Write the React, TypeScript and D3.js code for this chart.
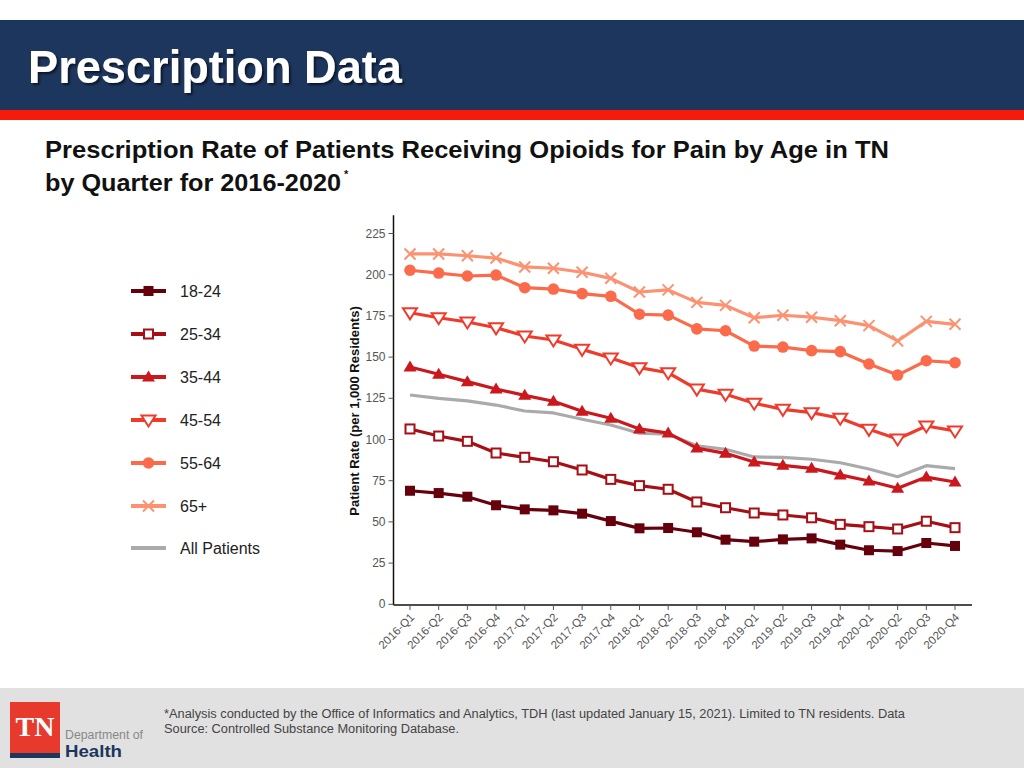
import React from "react";
import * as d3 from "d3";

const quarters = [
  "2016-Q1","2016-Q2","2016-Q3","2016-Q4",
  "2017-Q1","2017-Q2","2017-Q3","2017-Q4",
  "2018-Q1","2018-Q2","2018-Q3","2018-Q4",
  "2019-Q1","2019-Q2","2019-Q3","2019-Q4",
  "2020-Q1","2020-Q2","2020-Q3","2020-Q4",
];

const age18to24 = [68.9,67.5,65.3,60.1,57.6,57.0,55.0,50.5,46.1,46.3,43.7,39.2,38.0,39.4,40.0,36.2,32.8,32.3,37.2,35.4];
const age25to34 = [106.4,102.1,98.9,91.8,89.2,86.5,81.5,75.8,72.0,69.8,62.1,58.6,55.4,54.2,52.5,48.5,47.1,45.7,50.4,46.5];
const age35to44 = [144.0,139.6,135.1,130.6,126.8,123.2,117.1,112.9,106.4,103.9,94.8,91.6,86.3,84.3,82.5,78.5,74.8,70.4,77.2,74.2];
const age45to54 = [176.9,173.9,171.3,167.8,162.8,160.4,154.7,149.5,143.6,140.5,130.6,127.4,122.0,118.3,116.3,112.9,106.2,100.3,108.2,105.2];
const age55to64 = [202.7,201.0,199.2,199.8,192.1,191.3,188.5,186.9,176.0,175.5,167.1,166.0,156.7,156.1,153.9,153.3,145.8,139.1,147.8,146.6];
const age65plus = [212.6,212.6,211.5,210.1,204.7,203.9,201.5,197.8,189.5,190.8,183.2,181.4,173.9,175.4,174.2,172.1,169.1,159.8,171.7,169.9];
const allPatients = [127.0,125.0,123.4,120.9,117.3,116.1,112.3,108.8,103.8,103.2,96.2,94.1,89.4,89.2,88.0,85.9,82.1,77.4,84.1,82.3];

const yTicks = [0, 25, 50, 75, 100, 125, 150, 175, 200, 225];

type Marker = "squareFilled" | "squareOpen" | "triangleUp" | "triangleDown" | "circle" | "cross" | "none";

const seriesNames = ["18-24", "25-34", "35-44", "45-54", "55-64", "65+", "All Patients"];
const seriesValues = [age18to24, age25to34, age35to44, age45to54, age55to64, age65plus, allPatients];
const seriesColors = ["#67000d", "#a50f15", "#cb181d", "#ef3b2c", "#fb6a4a", "#fc9272", "#aaaaaa"];
const seriesMarkers: Marker[] = ["squareFilled", "squareOpen", "triangleUp", "triangleDown", "circle", "cross", "none"];

const FONT = "Liberation Sans, Arial, Helvetica, sans-serif";

function MarkerShape({ type, x, y, color }: { type: Marker; x: number; y: number; color: string }) {
  switch (type) {
    case "squareFilled":
      return <rect x={x - 5} y={y - 5} width={10} height={10} fill={color} />;
    case "squareOpen":
      return <rect x={x - 4.5} y={y - 4.5} width={9} height={9} fill="#fff" stroke={color} strokeWidth={2} />;
    case "triangleUp":
      return <path d={`M${x},${y - 6.5} L${x + 6.5},${y + 4.5} L${x - 6.5},${y + 4.5} Z`} fill={color} />;
    case "triangleDown":
      return <path d={`M${x - 7},${y - 4.5} L${x + 7},${y - 4.5} L${x},${y + 6.5} Z`} fill="#fff" stroke={color} strokeWidth={2} />;
    case "circle":
      return <circle cx={x} cy={y} r={5.8} fill={color} />;
    case "cross":
      return (
        <path d={`M${x - 5.5},${y - 5.5} L${x + 5.5},${y + 5.5} M${x - 5.5},${y + 5.5} L${x + 5.5},${y - 5.5}`} stroke={color} strokeWidth={2} fill="none" />
      );
    default:
      return null;
  }
}

export default function App() {
  const W = 1024;
  const H = 768;
  const x = d3.scalePoint<string>().domain(quarters).range([410, 955]);
  const y = d3.scaleLinear().domain([0, 225]).range([604.3, 233.5]);
  const axisLeft = 393.5;
  const axisTop = y(236);
  const axisBottom = 605;
  const axisRight = 972;

  const line = d3
    .line<number>()
    .x((_, i) => x(quarters[i]) as number)
    .y((d) => y(d));

  const legendY = [291, 334, 377, 420, 463, 506, 548];

  return (
    <svg width={W} height={H} viewBox={`0 0 ${W} ${H}`} style={{ position: "absolute", left: 0, top: 0, display: "block" }}>
      <defs>
        <filter id="shadow" x="-5%" y="-20%" width="110%" height="150%">
          <feDropShadow dx="2" dy="2" stdDeviation="1.2" floodColor="#000" floodOpacity="0.6" />
        </filter>
      </defs>
      <rect x={0} y={0} width={W} height={H} fill="#fff" />
      {/* Header */}
      <rect x={0} y={20} width={W} height={90} fill="#1d365e" />
      <rect x={0} y={110} width={W} height={10} fill="#f51a0c" />
      <text x={28} y={83} fill="#fff" fontFamily={FONT} fontWeight="bold" fontSize={46} textLength={374} lengthAdjust="spacingAndGlyphs" filter="url(#shadow)">
        Prescription Data
      </text>

      {/* Subtitle */}
      <text x={45} y={158} fill="#111" fontFamily={FONT} fontWeight="bold" fontSize={24} textLength={844} lengthAdjust="spacingAndGlyphs">
        Prescription Rate of Patients Receiving Opioids for Pain by Age in TN
      </text>
      <text x={45} y={191} fill="#111" fontFamily={FONT} fontWeight="bold" fontSize={24} textLength={296} lengthAdjust="spacingAndGlyphs">
        by Quarter for 2016-2020
      </text>
      <text x={344} y={178} fill="#111" fontFamily={FONT} fontWeight="bold" fontSize={11}>*</text>

      {/* Legend */}
      {seriesNames.map((name, i) => (
        <g key={name}>
          <line x1={131} x2={166} y1={legendY[i]} y2={legendY[i]} stroke={seriesColors[i]} strokeWidth={4} />
          <MarkerShape type={seriesMarkers[i]} x={148.5} y={legendY[i]} color={seriesColors[i]} />
          <text x={180} y={legendY[i] + 6} fontFamily={FONT} fontSize={16} fill="#222">
            {name}
          </text>
        </g>
      ))}

      {/* Axes */}
      <line x1={axisLeft} x2={axisLeft} y1={axisTop} y2={axisBottom} stroke="#111" strokeWidth={1.5} />
      <line x1={axisLeft} x2={axisRight} y1={axisBottom} y2={axisBottom} stroke="#111" strokeWidth={1.5} />
      {yTicks.map((t) => (
        <g key={t}>
          <line x1={axisLeft - 5} x2={axisLeft} y1={y(t)} y2={y(t)} stroke="#555" strokeWidth={1} />
          <text x={axisLeft - 8} y={y(t) + 4} textAnchor="end" fontFamily={FONT} fontSize={12} fill="#555">
            {t}
          </text>
        </g>
      ))}
      {quarters.map((q) => {
        const px = x(q) as number;
        return (
          <g key={q}>
            <line x1={px} x2={px} y1={axisBottom} y2={axisBottom + 5} stroke="#555" strokeWidth={1} />
            <text
              transform={`translate(${px + 5},${axisBottom + 13}) rotate(-45)`}
              textAnchor="end"
              fontFamily={FONT}
              fontSize={11.5}
              fill="#555"
            >
              {q}
            </text>
          </g>
        );
      })}
      <text
        transform={`translate(${359},${411}) rotate(-90)`}
        textAnchor="middle"
        fontFamily={FONT}
        fontWeight="bold"
        fontSize={13}
        fill="#111"
      >
        Patient Rate (per 1,000 Residents)
      </text>

      {/* Lines: draw gray first, then age groups */}
      {[6, 0, 1, 2, 3, 4, 5].map((si) => (
        <g key={seriesNames[si]}>
          <path d={line(seriesValues[si]) || ""} fill="none" stroke={seriesColors[si]} strokeWidth={3.2} strokeLinejoin="round" />
          {seriesValues[si].map((v, i) => (
            <MarkerShape key={i} type={seriesMarkers[si]} x={x(quarters[i]) as number} y={y(v)} color={seriesColors[si]} />
          ))}
        </g>
      ))}

      {/* Footer */}
      <rect x={0} y={688} width={W} height={80} fill="#e1e1e1" />
      <text x={164} y={718} fontFamily={FONT} fontSize={12} fill="#444" textLength={741} lengthAdjust="spacingAndGlyphs">
        *Analysis conducted by the Office of Informatics and Analytics, TDH (last updated January 15, 2021). Limited to TN residents. Data
      </text>
      <text x={164} y={733} fontFamily={FONT} fontSize={12} fill="#444" textLength={295} lengthAdjust="spacingAndGlyphs">
        Source: Controlled Substance Monitoring Database.
      </text>
      {/* Logo */}
      <rect x={10} y={702} width={50} height={51} fill="#e8392d" />
      <text x={35} y={736} textAnchor="middle" fontFamily="Liberation Serif, serif" fontWeight="bold" fontSize={28} fill="#fff">
        TN
      </text>
      <rect x={10} y={753} width={50} height={5} fill="#1d365e" />
      <text x={65} y={739} fontFamily={FONT} fontSize={12} fill="#888" textLength={78} lengthAdjust="spacingAndGlyphs">
        Department of
      </text>
      <text x={65} y={757} fontFamily={FONT} fontWeight="bold" fontSize={17} fill="#1d365e" textLength={57} lengthAdjust="spacingAndGlyphs">
        Health
      </text>
    </svg>
  );
}
